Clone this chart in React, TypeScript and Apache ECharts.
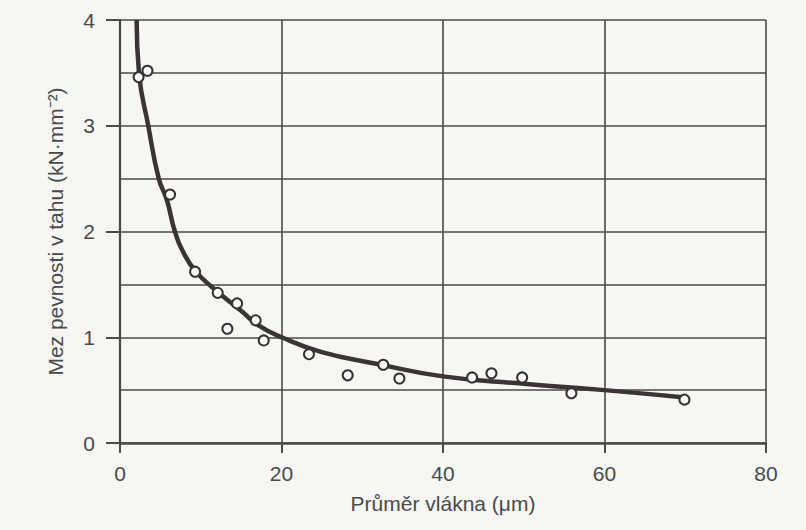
import React, { useEffect, useRef } from "react";
import * as echarts from "echarts";

// Measured points (fibre diameter µm, tensile strength kN·mm^-2)
const pointX = [2.3, 3.4, 6.2, 9.3, 12.1, 13.3, 14.5, 16.8, 17.8, 23.4, 28.2, 32.6, 34.6, 43.6, 46.0, 49.8, 55.9, 69.9];
const pointY = [3.46, 3.52, 2.35, 1.62, 1.42, 1.08, 1.32, 1.16, 0.97, 0.84, 0.64, 0.74, 0.61, 0.62, 0.66, 0.62, 0.47, 0.41];

// Fitted curve
const curveX = [2.06, 2.35, 3.5, 4.8, 5.8, 6.8, 8.0, 9.3, 11.3, 15, 17, 20, 25, 31.7, 40, 50, 60, 70];
const curveY = [4.0, 3.5, 3.0, 2.5, 2.3, 2.0, 1.78, 1.63, 1.48, 1.25, 1.12, 1.0, 0.86, 0.75, 0.63, 0.56, 0.5, 0.43];

const xTicks = [0, 20, 40, 60, 80];
const yTicks = [0, 1, 2, 3, 4];

const xName = "Průměr vlákna (μm)";
const yName = "Mez pevnosti v tahu (kN·mm⁻²)";

export default function App() {
  const ref = useRef<HTMLDivElement>(null);
  useEffect(() => {
    document.body.style.margin = "0";
    const chart = echarts.init(ref.current!, null, { renderer: "svg" });
    const gridColor = "#4a4a4a";
    const textColor = "#4a4a4a";
    const bg = "#f6f6f4";
    const font = "'Liberation Sans', Arial, sans-serif";
    chart.setOption({
      animation: false,
      backgroundColor: bg,
      grid: { left: 120, right: 40, top: 20, bottom: 87 },
      xAxis: {
        type: "value",
        min: xTicks[0],
        max: xTicks[xTicks.length - 1],
        interval: 20,
        name: xName,
        nameLocation: "middle",
        nameGap: 50,
        nameTextStyle: { fontSize: 21, color: textColor, fontFamily: font },
        axisLine: { show: true, onZero: false, lineStyle: { color: gridColor, width: 2.5 } },
        axisTick: { show: true, length: 10, lineStyle: { color: gridColor, width: 2 } },
        axisLabel: { fontSize: 21, color: textColor, fontFamily: font, margin: 20 },
        splitLine: { show: true, lineStyle: { color: gridColor, width: 1.6 } },
      },
      yAxis: {
        type: "value",
        min: yTicks[0],
        max: yTicks[yTicks.length - 1],
        interval: 1,
        name: yName,
        nameLocation: "middle",
        nameGap: 54,
        nameTextStyle: { fontSize: 21, color: textColor, fontFamily: font },
        axisLine: { show: true, onZero: false, lineStyle: { color: gridColor, width: 2.2 } },
        axisTick: { show: true, length: 14, lineStyle: { color: gridColor, width: 2 } },
        axisLabel: { fontSize: 21, color: textColor, fontFamily: font, margin: 25 },
        splitLine: { show: true, lineStyle: { color: gridColor, width: 1.6 } },
        minorTick: { show: false, splitNumber: 2 },
        minorSplitLine: { show: true, lineStyle: { color: gridColor, width: 1.6 } },
      },
      series: [
        {
          type: "line",
          data: curveX.map((x, i) => [x, curveY[i]]),
          smooth: 0.5,
          showSymbol: false,
          lineStyle: { color: "#3a3436", width: 4.5 },
          z: 3,
        },
        {
          type: "scatter",
          data: pointX.map((x, i) => [x, pointY[i]]),
          symbol: "circle",
          symbolSize: 10,
          itemStyle: { color: "#ffffff", borderColor: "#333333", borderWidth: 2, opacity: 1 },
          z: 4,
        },
      ],
    });
    return () => chart.dispose();
  }, []);
  return <div ref={ref} style={{ width: 806, height: 530 }} />;
}
